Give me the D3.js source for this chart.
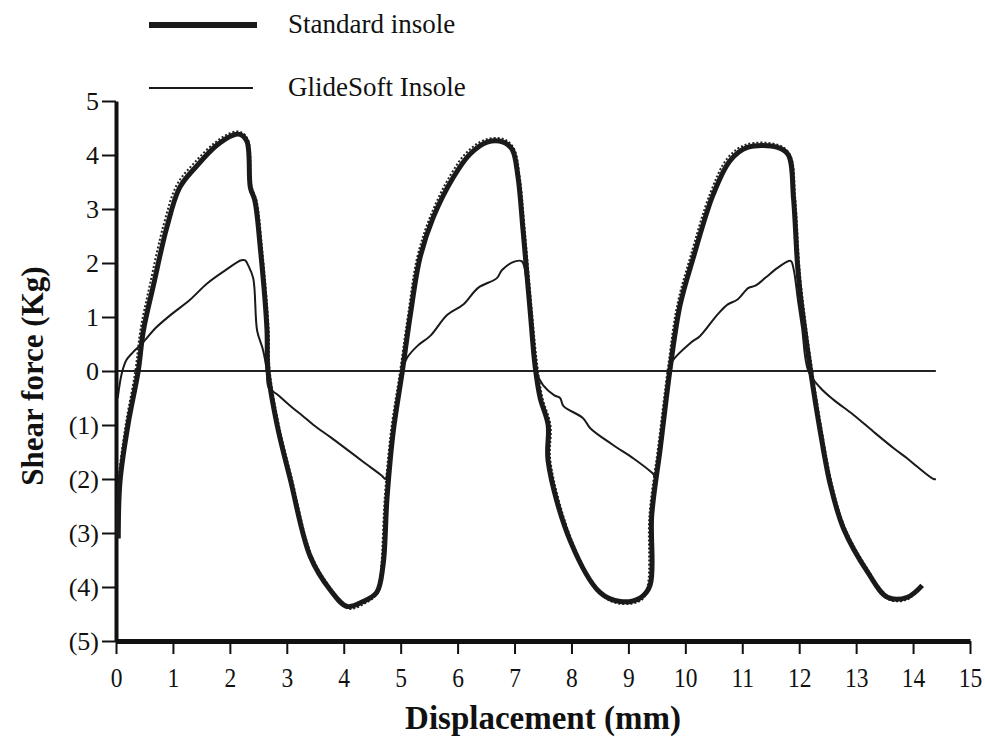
<!DOCTYPE html>
<html>
<head>
<meta charset="utf-8">
<script src="https://cdn.jsdelivr.net/npm/d3@7"></script>
<style>
  body { margin: 0; background: #fff; }
  text { font-family: "Liberation Serif", "Times New Roman", serif; fill: #111; }
</style>
</head>
<body>
<div id="visArea"></div>
<script>
// chart data
var standardDisp = [0.04,0.07,0.21,0.39,0.48,0.66,0.89,1.12,1.42,1.77,2.06,2.18,2.3,2.36,2.44,2.53,2.65,2.67,2.83,3.06,3.41,3.76,4.06,4.34,4.58,4.69,4.76,4.87,5.03,5.17,5.34,5.57,5.92,6.22,6.52,6.8,6.96,7.06,7.15,7.28,7.36,7.45,7.59,7.59,7.98,8.5,8.86,9.21,9.38,9.41,9.56,9.74,9.91,10.14,10.49,10.79,11.09,11.62,11.81,11.9,11.97,12.02,12.2,12.37,12.55,12.78,13.2,13.55,13.9,14.16]
var standardForce = [-3.1,-2.05,-1.0,0,0.74,1.6,2.65,3.4,3.8,4.18,4.37,4.38,4.25,3.4,3.15,2.33,0.8,0,-1.0,-2.0,-3.43,-4.05,-4.36,-4.27,-4.1,-3.6,-2.36,-1.12,0,1.04,2.1,2.84,3.58,4.02,4.24,4.24,4.1,3.6,2.6,1.04,0.1,-0.5,-1.0,-1.67,-3.15,-4.1,-4.27,-4.2,-3.97,-2.67,-1.43,0.1,1.23,2.1,3.27,3.9,4.14,4.14,4.0,3.2,1.97,1.41,0,-1.12,-2.12,-2.92,-3.72,-4.19,-4.19,-3.97]

// the dotted trace that runs along the standard curve
var dottedDisp = [0.02,0.05,0.17,0.34,0.43,0.6,0.83,1.07,1.38,1.74,2.04,2.2,2.32,2.38,2.47,2.56,2.68,2.7,2.86,3.09,3.44,3.79,4.08,4.36,4.6,4.66,4.72,4.83,4.99,5.13,5.29,5.52,5.87,6.18,6.5,6.82,6.99,7.09,7.18,7.31,7.4,7.49,7.63,7.63,8.01,8.52,8.86,9.23,9.34,9.37,9.52,9.7,9.86,10.09,10.44,10.74,11.06,11.62,11.84,11.93,12.0,12.05,12.23,12.4,12.58,12.81,13.23,13.57,13.9,14.13]
var dottedForce = [-3.0,-2.0,-1.0,0,0.76,1.62,2.68,3.45,3.86,4.23,4.42,4.42,4.28,3.42,3.15,2.33,0.8,0,-1.0,-2.0,-3.43,-4.05,-4.4,-4.31,-4.1,-3.6,-2.36,-1.12,0,1.04,2.1,2.86,3.62,4.07,4.29,4.29,4.12,3.6,2.6,1.04,0.1,-0.5,-1.0,-1.67,-3.15,-4.14,-4.31,-4.24,-3.97,-2.67,-1.43,0.1,1.23,2.12,3.3,3.94,4.19,4.19,4.0,3.2,1.97,1.41,0,-1.12,-2.12,-2.92,-3.72,-4.23,-4.23,-4.0]

var glideDisp = [0.03,0.1,0.18,0.3,0.45,0.7,0.95,1.3,1.6,1.9,2.2,2.27,2.32,2.41,2.48,2.58,2.65,2.68,2.85,3.1,3.3,3.47,3.76,3.99,4.34,4.67,4.73,4.78,4.9,5.02,5.11,5.3,5.52,5.82,6.1,6.36,6.69,6.78,7.01,7.13,7.22,7.3,7.38,7.5,7.7,7.8,7.86,8.2,8.33,8.73,9.09,9.42,9.47,9.52,9.62,9.72,9.77,10.09,10.26,10.56,10.74,10.91,11.11,11.23,11.41,11.62,11.85,11.9,11.98,12.05,12.16,12.37,12.6,12.95,13.3,13.66,13.9,14.07,14.36,14.4]
var glideForce = [-0.5,-0.05,0.2,0.35,0.5,0.8,1.03,1.32,1.62,1.85,2.05,2.05,1.96,1.72,0.74,0.4,0,-0.3,-0.45,-0.68,-0.85,-1.0,-1.22,-1.4,-1.68,-1.94,-2.0,-1.8,-0.9,0,0.24,0.47,0.65,1.04,1.23,1.54,1.72,1.87,2.03,2.03,1.6,0.9,0,-0.26,-0.45,-0.5,-0.65,-0.87,-1.06,-1.37,-1.62,-1.89,-1.95,-1.7,-0.9,0,0.18,0.52,0.65,1.04,1.23,1.32,1.54,1.58,1.73,1.91,2.04,1.9,1.3,0.8,0,-0.31,-0.53,-0.81,-1.12,-1.43,-1.62,-1.77,-2.0,-2.0]

var xTicks = d3.range(0, 16)
var yTicks = [5, 4, 3, 2, 1, 0, -1, -2, -3, -4, -5]
var zeroLineEnd = 14.4
var legendLabels = ["Standard insole", "GlideSoft Insole"]

// Display Constants
var viewWidth = 985
var viewHeight = 737

var xScale = d3.scaleLinear().domain([0, 15]).range([116, 970])
var yScale = d3.scaleLinear().domain([-5, 5]).range([641, 101])

var svg = d3.select('#visArea')
  .append('svg')
  .attr('width', viewWidth)
  .attr('height', viewHeight)

function toPoints(xs, ys) {
  return xs.map((x, i) => ({x: x, y: ys[i]}))
}

// centripetal catmull-rom keeps the hand-traced curves smooth without big overshoot
var lineGenerator = d3.line()
  .x((d) => xScale(d.x))
  .y((d) => yScale(d.y))
  .curve(d3.curveCatmullRom.alpha(0.5))

// zero line
svg.append('line')
  .attr('x1', xScale(0)).attr('x2', xScale(zeroLineEnd))
  .attr('y1', yScale(0)).attr('y2', yScale(0))
  .attr('stroke', '#222').attr('stroke-width', 2)

// y axis
var yAxis = d3.axisLeft(yScale)
  .tickValues(yTicks)
  .tickSize(14)
  .tickSizeOuter(0)
  .tickPadding(3)
  .tickFormat((d) => d < 0 ? '(' + (-d) + ')' : String(d))

var gy = svg.append('g')
  .attr('transform', 'translate(' + xScale(0) + ',0)')
  .call(yAxis)
gy.select('.domain').attr('stroke', '#111').attr('stroke-width', 4)
gy.selectAll('.tick line').attr('stroke', '#111').attr('stroke-width', 2)
gy.selectAll('.tick text')
  .attr('font-size', 26)
  .attr('fill', '#111')

// x axis
var xAxis = d3.axisBottom(xScale)
  .tickValues(xTicks)
  .tickSize(13)
  .tickSizeOuter(0)
  .tickPadding(13)
  .tickFormat(d3.format('d'))

var gx = svg.append('g')
  .attr('transform', 'translate(0,' + yScale(-5) + ')')
  .call(xAxis)
gx.select('.domain').attr('stroke', '#111').attr('stroke-width', 5)
gx.selectAll('.tick line').attr('stroke', '#111').attr('stroke-width', 2)
gx.selectAll('.tick text')
  .attr('font-size', 28)
  .attr('transform', 'scale(0.84,1)')
  .attr('fill', '#111')

// series
svg.append('path')
  .datum(toPoints(dottedDisp, dottedForce))
  .attr('d', lineGenerator)
  .attr('fill', 'none')
  .attr('stroke', '#222')
  .attr('stroke-width', 2)
  .attr('stroke-dasharray', '2,2')

svg.append('path')
  .datum(toPoints(standardDisp, standardForce))
  .attr('d', lineGenerator)
  .attr('fill', 'none')
  .attr('stroke', '#1a1a1a')
  .attr('stroke-width', 5)
  .attr('stroke-linejoin', 'round')

svg.append('path')
  .datum(toPoints(glideDisp, glideForce))
  .attr('d', lineGenerator)
  .attr('fill', 'none')
  .attr('stroke', '#1a1a1a')
  .attr('stroke-width', 2)
  .attr('stroke-linejoin', 'round')

// axis titles
svg.append('text')
  .attr('x', 543).attr('y', 729)
  .attr('text-anchor', 'middle')
  .attr('font-size', 33)
  .attr('font-weight', 'bold')
  .text('Displacement (mm)')

svg.append('text')
  .attr('transform', 'translate(43,376) rotate(-90)')
  .attr('text-anchor', 'middle')
  .attr('font-size', 31)
  .attr('font-weight', 'bold')
  .text('Shear force (Kg)')

// legend
var legendWidths = [6, 2]
var legendEnds = [257, 253]
legendLabels.forEach(function(label, i) {
  var ly = 25 + i * 63
  svg.append('line')
    .attr('x1', 149).attr('x2', legendEnds[i])
    .attr('y1', ly).attr('y2', ly)
    .attr('stroke', '#1a1a1a')
    .attr('stroke-width', legendWidths[i])
  svg.append('text')
    .attr('x', 288).attr('y', ly + 8)
    .attr('font-size', 27)
    .text(label)
})
</script>
</body>
</html>
